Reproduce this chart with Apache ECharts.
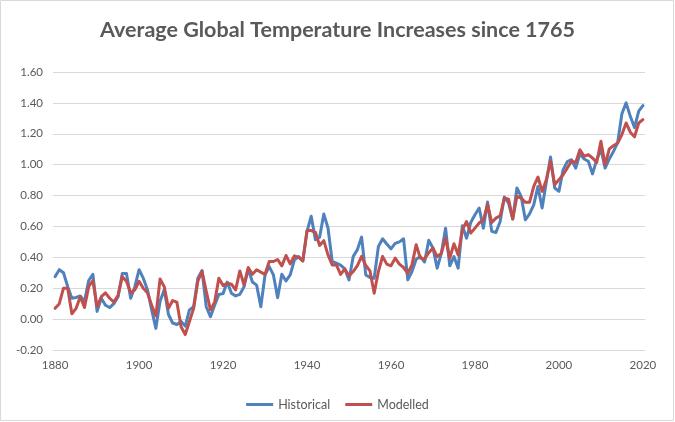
<!DOCTYPE html>
<html>
<head>
<meta charset="utf-8">
<script src="https://cdn.jsdelivr.net/npm/echarts@6/dist/echarts.min.js"></script>
<style>
html,body{margin:0;padding:0;background:#fff;}
#c{width:675px;height:422px;}
</style>
</head>
<body>
<div id="c"></div>
<script>
const titleText = 'Average Global Temperature Increases since 1765';
const seriesNames = ['Historical', 'Modelled'];
const firstYear = 1880;
const xTickLabels = [1880, 1900, 1920, 1940, 1960, 1980, 2000, 2020];
const yTickLabels = [-0.2, 0, 0.2, 0.4, 0.6, 0.8, 1.0, 1.2, 1.4, 1.6];

const historical = [
  0.275, 0.32, 0.30, 0.21, 0.135, 0.14, 0.15, 0.115, 0.25, 0.29,
  0.05, 0.135, 0.09, 0.075, 0.10, 0.145, 0.295, 0.295, 0.135, 0.21,
  0.32, 0.265, 0.19, 0.06, -0.06, 0.115, 0.19, 0.03, -0.025, -0.035,
  -0.015, -0.045, 0.06, 0.08, 0.265, 0.315, 0.08, 0.015, 0.09, 0.16,
  0.165, 0.24, 0.167, 0.15, 0.16, 0.21, 0.325, 0.24, 0.22, 0.08,
  0.286, 0.34, 0.286, 0.139, 0.29, 0.247, 0.286, 0.384, 0.405, 0.377,
  0.568, 0.666, 0.514, 0.53, 0.68, 0.59, 0.373, 0.362, 0.35, 0.325,
  0.254, 0.405, 0.45, 0.531, 0.286, 0.27, 0.265, 0.47, 0.52, 0.486,
  0.455, 0.49, 0.50, 0.52, 0.254, 0.308, 0.388, 0.405, 0.37, 0.51,
  0.46, 0.33, 0.427, 0.589, 0.345, 0.405, 0.33, 0.604, 0.524, 0.626,
  0.676, 0.719, 0.589, 0.758, 0.568, 0.561, 0.632, 0.79, 0.751, 0.648,
  0.849, 0.795, 0.643, 0.682, 0.74, 0.859, 0.719, 0.89, 1.05, 0.849,
  0.827, 0.968, 1.02, 1.032, 0.978, 1.07, 1.037, 1.022, 0.94, 1.032,
  1.10, 0.978, 1.037, 1.086, 1.145, 1.33, 1.40, 1.313, 1.24, 1.346,
  1.383
];

const modelled = [
  0.07, 0.10, 0.20, 0.20, 0.035, 0.07, 0.145, 0.075, 0.21, 0.25,
  0.08, 0.145, 0.17, 0.135, 0.11, 0.155, 0.275, 0.245, 0.17, 0.19,
  0.245, 0.20, 0.17, 0.09, 0.02, 0.26, 0.21, 0.07, 0.12, 0.11,
  -0.05, -0.10, -0.015, 0.07, 0.245, 0.31, 0.18, 0.06, 0.11, 0.265,
  0.217, 0.232, 0.226, 0.189, 0.312, 0.221, 0.334, 0.29, 0.319, 0.304,
  0.29, 0.373, 0.373, 0.386, 0.345, 0.412, 0.358, 0.41, 0.40, 0.377,
  0.573, 0.573, 0.562, 0.477, 0.508, 0.416, 0.351, 0.351, 0.29, 0.325,
  0.28, 0.308, 0.347, 0.406, 0.347, 0.312, 0.167, 0.308, 0.406, 0.356,
  0.345, 0.395, 0.356, 0.334, 0.297, 0.351, 0.482, 0.395, 0.39, 0.43,
  0.46, 0.405, 0.427, 0.524, 0.395, 0.488, 0.416, 0.578, 0.632, 0.557,
  0.589, 0.622, 0.643, 0.741, 0.626, 0.654, 0.669, 0.784, 0.777, 0.648,
  0.795, 0.784, 0.756, 0.756, 0.859, 0.92, 0.827, 0.903, 1.022, 0.87,
  0.903, 0.935, 0.978, 1.022, 1.015, 1.097, 1.054, 1.065, 1.043, 1.015,
  1.151, 1.0, 1.102, 1.123, 1.14, 1.195, 1.27, 1.21, 1.18, 1.27,
  1.292
];

const years = historical.map((_, i) => firstYear + i);
const toPairs = arr => arr.map((v, i) => [years[i], v]);

const FONT = 'Lato, "Open Sans", sans-serif';
const TXT = '#595959';
const GRID = '#d9d9d9';

const chart = echarts.init(document.getElementById('c'), null, {renderer: 'canvas'});
chart.setOption({
  animation: false,
  backgroundColor: '#fff',
  color: ['#4F81BD', '#C0504D'],
  title: {
    text: titleText,
    left: 'center',
    top: 14,
    textStyle: {fontFamily: FONT, fontWeight: 'bold', fontSize: 21.5, color: TXT}
  },
  legend: {
    data: seriesNames,
    left: 'center',
    top: 393,
    icon: 'rect',
    itemWidth: 27,
    itemHeight: 3,
    itemGap: 15,
    textStyle: {fontFamily: FONT, fontSize: 12.5, color: TXT, padding: [0, 0, 0, 0]}
  },
  grid: {left: 53, right: 30, top: 72, bottom: 72, containLabel: false},
  xAxis: {
    type: 'value',
    min: 1879.5,
    max: 2020.5,
    axisLine: {show: true, onZero: true, lineStyle: {color: GRID, width: 1}},
    axisTick: {show: false},
    splitLine: {show: false},
    axisLabel: {
      customValues: xTickLabels,
      color: TXT, fontFamily: FONT, fontSize: 11.5, margin: 9,
      formatter: v => String(v)
    }
  },
  yAxis: {
    type: 'value',
    min: -0.2,
    max: 1.6,
    interval: 0.2,
    axisLine: {show: false},
    axisTick: {show: false},
    splitLine: {show: true, lineStyle: {color: GRID, width: 1}},
    axisLabel: {
      color: TXT, fontFamily: FONT, fontSize: 11.5, margin: 10,
      formatter: v => (Math.round(v * 100) / 100).toFixed(2)
    }
  },
  graphic: [{
    type: 'rect',
    shape: {x: 0.5, y: 0.5, width: 673, height: 420},
    style: {fill: 'none', stroke: GRID, lineWidth: 1},
    silent: true,
    z: -1
  }],
  series: [
    {
      name: seriesNames[0], type: 'line', data: toPairs(historical),
      symbol: 'none', lineStyle: {width: 3, join: 'round', cap: 'round'}
    },
    {
      name: seriesNames[1], type: 'line', data: toPairs(modelled),
      symbol: 'none', lineStyle: {width: 3, join: 'round', cap: 'round'}
    }
  ]
});
</script>
</body>
</html>
